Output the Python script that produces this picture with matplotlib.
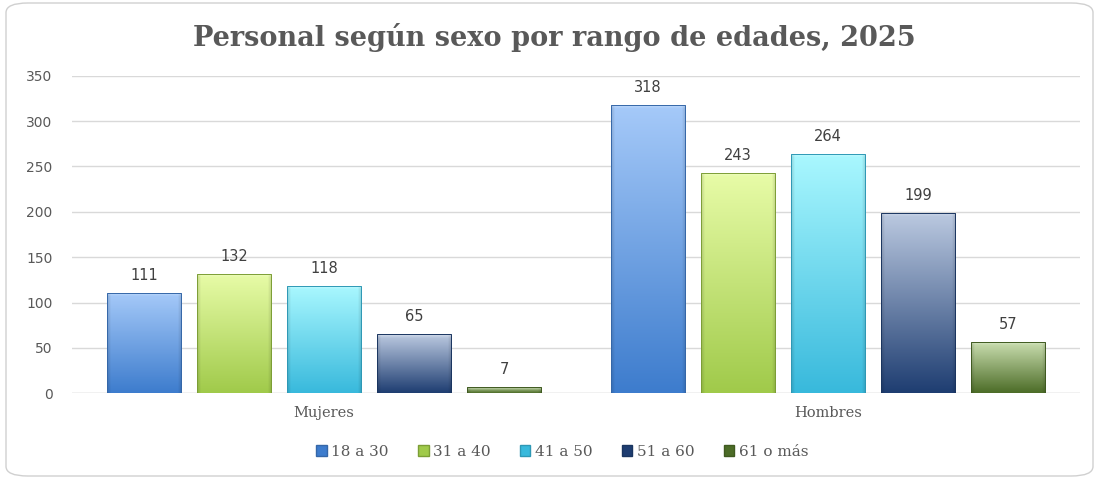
import matplotlib.pyplot as plt
import matplotlib.colors as mcolors
from matplotlib.patches import FancyBboxPatch, Patch
import numpy as np

categorias = ['Mujeres', 'Hombres']
rangos = ['18 a 30', '31 a 40', '41 a 50', '51 a 60', '61 o más']
valores = {
    '18 a 30': [111, 318],
    '31 a 40': [132, 243],
    '41 a 50': [118, 264],
    '51 a 60': [65, 199],
    '61 o más': [7, 57],
}
# (top, bottom, edge) colours of each gradient fill
colores = {
    '18 a 30': ('#A6CAF9', '#3D7CCD', '#3567A8'),
    '31 a 40': ('#E8FCA8', '#A0CA4A', '#7C9E36'),
    '41 a 50': ('#AAF8FF', '#38B9DC', '#2E98B5'),
    '51 a 60': ('#BCCAE1', '#1E3D71', '#1A3560'),
    '61 o más': ('#CCE0B2', '#4C6C27', '#3F5A20'),
}

gris = '#595959'
fig = plt.figure(figsize=(10.96, 4.79), dpi=100)
ax = fig.add_axes([72 / 1096, 1 - 393.3 / 479, 1008 / 1096, 317.6 / 479])
px_por_unidad = 317.6 / 350

# rounded frame around the chart
marco = FancyBboxPatch((6 / 1096, 3 / 479), 1087 / 1096, 473 / 479,
                       boxstyle='round,pad=0,rounding_size=0.02',
                       transform=fig.transFigure, facecolor='none',
                       edgecolor='#D0D0D0', lw=1.0, zorder=0)
fig.patches.append(marco)


def gradiente(ax, rect, top, bottom):
    x0, w, h = rect.get_x(), rect.get_width(), rect.get_height()
    n = 300
    t = np.linspace(0, 1, n)[:, None, None]
    c_top = np.array(mcolors.to_rgb(top))
    c_bot = np.array(mcolors.to_rgb(bottom))
    img = c_bot * (1 - t) + c_top * t  # row 0 = bottom
    img = np.repeat(img, 80, axis=1)
    # soft bevel on the sides
    xs = np.linspace(0, 1, 80)
    side = np.clip(np.minimum(xs, 1 - xs) / 0.05, 0, 1)
    shade = 0.86 + 0.14 * side
    img = img * shade[None, :, None]
    # soft light bevel on top (about 4 px)
    alto_px = max(h * px_por_unidad, 1)
    d_px = (1 - t[:, 0, 0]) * alto_px
    luz = np.clip(1 - d_px / 4.0, 0, 1) * 0.35
    img = img * (1 - luz[:, None, None]) + luz[:, None, None]
    im = ax.imshow(np.clip(img, 0, 1), extent=[x0, x0 + w, 0, h],
                   origin='lower', aspect='auto', interpolation='bilinear',
                   zorder=2)
    im.set_clip_path(rect)


x = np.arange(len(categorias))
paso = 0.1786
ancho = 0.147
for i, r in enumerate(rangos):
    top, bot, edge = colores[r]
    pos = x + (i - 2) * paso
    barras = ax.bar(pos, valores[r], ancho, facecolor='none',
                    edgecolor=edge, lw=0.7, zorder=3)
    for b, v in zip(barras, valores[r]):
        gradiente(ax, b, top, bot)
        ax.text(b.get_x() + b.get_width() / 2, v + 11, str(v),
                ha='center', va='bottom', fontsize=10.5, color='#404040',
                family='DejaVu Sans')

ax.set_xlim(-0.5, 1.5)
ax.set_ylim(0, 350)
ax.set_yticks(range(0, 351, 50))
ax.yaxis.grid(True, color='#D9D9D9', lw=1)
ax.set_axisbelow(True)
for s in ax.spines.values():
    s.set_visible(False)
ax.tick_params(axis='y', length=0, pad=14, labelsize=10, labelcolor=gris)
ax.set_yticklabels([str(v) for v in range(0, 351, 50)], family='DejaVu Sans')
ax.set_xticks(x)
ax.set_xticklabels(categorias, family='DejaVu Serif', fontsize=10.5, color=gris)
ax.tick_params(axis='x', length=0, pad=9)
ax.axhline(0, color='#D9D9D9', lw=1, zorder=1)

fig.text(0.506, 1 - 37 / 479, 'Personal según sexo por rango de edades, 2025',
         ha='center', va='center', fontsize=19.5, fontweight='bold',
         family='DejaVu Serif', color=gris)

handles = [Patch(facecolor=colores[r][1], edgecolor=colores[r][2]) for r in rangos]
fig.legend(handles, rangos, loc='center', bbox_to_anchor=(0.513, 1 - 452 / 479),
           ncol=5, frameon=False, handlelength=0.7, handleheight=0.7,
           handletextpad=0.3, columnspacing=1.9,
           prop={'family': 'DejaVu Serif', 'size': 11}, labelcolor=gris)

fig.savefig('out.png', dpi=100)
